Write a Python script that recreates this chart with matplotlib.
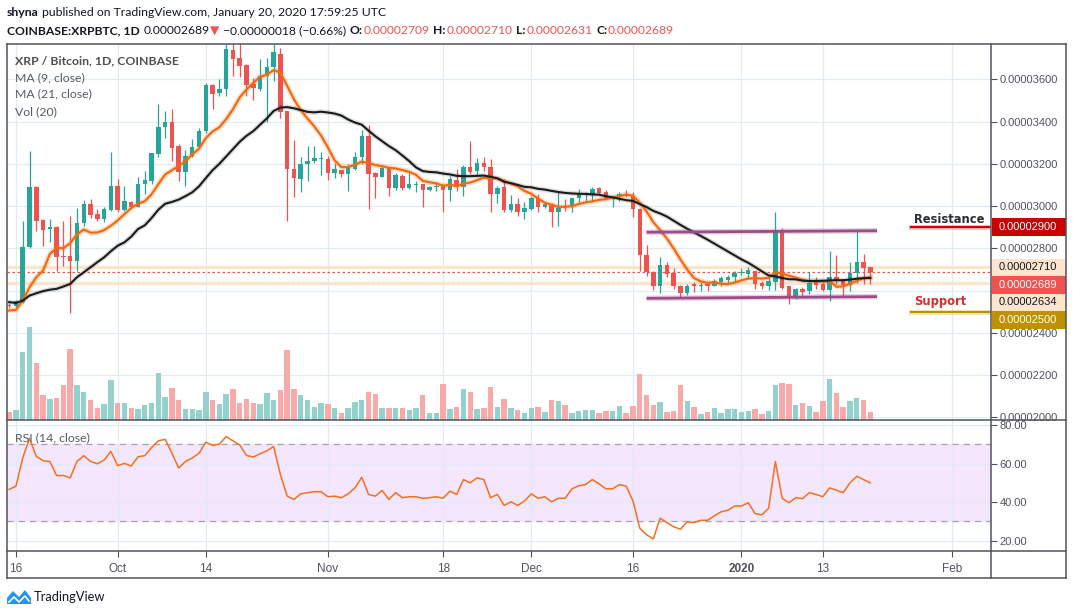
import numpy as np
import pandas as pd
import matplotlib.pyplot as plt
from matplotlib.patches import Rectangle, Polygon
from matplotlib.lines import Line2D

plt.rcParams['font.family'] = ['Liberation Sans', 'DejaVu Sans']

# daily candles XRP/BTC, prices in satoshi (1e-8 BTC), first candle 2019-09-15
first_day = "2019-09-15"
opens = [2530, 2525, 2545, 2805, 3091, 2935, 2890, 2902, 2760, 2765,
         2742, 2920, 3009, 2962, 2938, 2983, 3093, 2983, 3017, 2997,
         3104, 3120, 3246, 3372, 3396, 3282, 3159, 3238, 3281, 3353,
         3572, 3537, 3553, 3739, 3703, 3667, 3580, 3556, 3616, 3656,
         3722, 3451, 3173, 3128, 3199, 3211, 3222, 3222, 3158, 3172,
         3151, 3175, 3230, 3333, 3156, 3139, 3183, 3085, 3140, 3085,
         3100, 3104, 3076, 3088, 3099, 3077, 3123, 3088, 3187, 3167,
         3202, 3187, 3057, 3088, 2983, 3009, 2970, 2986, 3038, 2997,
         3009, 2973, 2994, 2994, 3036, 3054, 3054, 3085, 3065, 3038,
         3041, 3054, 3049, 2986, 2770, 2686, 2623, 2721, 2682, 2622,
         2590, 2631, 2622, 2631, 2623, 2639, 2652, 2666, 2684, 2678,
         2691, 2634, 2623, 2642, 2880, 2620, 2573, 2608, 2600, 2642,
         2631, 2603, 2663, 2652, 2628, 2682, 2734, 2709]
highs = [2540, 2555, 2931, 3262, 3095, 2940, 2938, 2905, 2930, 2954,
         2990, 3030, 3033, 2986, 2994, 3254, 3128, 3096, 3025, 3139,
         3167, 3252, 3482, 3450, 3459, 3293, 3265, 3317, 3367, 3582,
         3580, 3600, 3767, 3770, 3770, 3671, 3608, 3695, 3703, 3766,
         3750, 3451, 3312, 3230, 3285, 3285, 3254, 3235, 3203, 3172,
         3199, 3254, 3359, 3385, 3162, 3191, 3186, 3154, 3151, 3159,
         3120, 3104, 3096, 3112, 3104, 3143, 3175, 3195, 3309, 3227,
         3230, 3222, 3096, 3128, 3052, 3038, 3017, 3049, 3057, 3017,
         3013, 3065, 3033, 3038, 3080, 3065, 3088, 3091, 3076, 3044,
         3068, 3077, 3065, 2990, 2816, 2694, 2760, 2734, 2705, 2626,
         2631, 2639, 2642, 2639, 2655, 2671, 2675, 2691, 2705, 2710,
         2691, 2644, 2660, 2973, 2896, 2620, 2612, 2616, 2688, 2663,
         2641, 2786, 2768, 2652, 2734, 2891, 2773, 2710]
lows = [2515, 2515, 2540, 2800, 2880, 2812, 2828, 2694, 2718, 2493,
        2694, 2907, 2943, 2930, 2923, 2978, 2970, 2978, 2990, 2994,
        3057, 3105, 3233, 3320, 3214, 3117, 3096, 3233, 3277, 3348,
        3459, 3522, 3522, 3616, 3609, 3522, 3501, 3545, 3396, 3592,
        3419, 2931, 3043, 3068, 3120, 3202, 3148, 3123, 3132, 3139,
        3072, 3170, 3199, 2986, 3038, 3136, 3047, 3077, 3077, 3080,
        3065, 2997, 3069, 3072, 2970, 3025, 3072, 3049, 3151, 3148,
        3167, 2970, 3014, 2973, 2973, 2954, 2939, 2983, 2973, 2989,
        2902, 2907, 2975, 2973, 3017, 3017, 3017, 3057, 3030, 2994,
        3025, 3041, 2946, 2694, 2671, 2603, 2587, 2663, 2608, 2568,
        2581, 2595, 2597, 2600, 2620, 2620, 2636, 2642, 2674, 2660,
        2608, 2608, 2603, 2604, 2608, 2534, 2560, 2571, 2584, 2608,
        2597, 2552, 2631, 2568, 2600, 2634, 2631, 2631]
closes = [2525, 2548, 2805, 3091, 2930, 2888, 2902, 2757, 2757, 2742,
          2920, 3009, 2959, 2938, 2986, 3093, 2983, 3025, 2997, 3104,
          3123, 3249, 3372, 3396, 3277, 3159, 3235, 3281, 3353, 3572,
          3530, 3553, 3742, 3695, 3664, 3574, 3561, 3616, 3656, 3731,
          3443, 3175, 3131, 3199, 3214, 3227, 3224, 3158, 3175, 3151,
          3180, 3233, 3333, 3151, 3139, 3180, 3085, 3147, 3085, 3104,
          3104, 3076, 3091, 3093, 3077, 3128, 3088, 3187, 3159, 3202,
          3186, 3057, 3085, 2983, 3009, 2970, 2991, 3038, 2997, 3009,
          2973, 2991, 2989, 3038, 3061, 3060, 3080, 3061, 3038, 3044,
          3057, 3049, 2986, 2770, 2686, 2623, 2721, 2679, 2619, 2590,
          2623, 2620, 2628, 2623, 2644, 2660, 2666, 2685, 2686, 2697,
          2631, 2619, 2647, 2880, 2611, 2573, 2608, 2594, 2636, 2628,
          2603, 2663, 2644, 2628, 2682, 2734, 2707, 2689]
volumes = [24, 29, 205, 280, 170, 74, 62, 67, 104, 212,
           104, 85, 59, 37, 47, 119, 52, 52, 37, 32,
           44, 52, 142, 70, 97, 59, 32, 32, 29, 85,
           59, 47, 77, 94, 52, 62, 52, 49, 80, 59,
           89, 209, 92, 74, 59, 40, 52, 47, 37, 22,
           37, 55, 59, 85, 77, 35, 35, 37, 35, 29,
           35, 74, 20, 22, 107, 32, 40, 92, 85, 32,
           35, 100, 40, 64, 37, 31, 22, 35, 40, 25,
           60, 57, 44, 22, 27, 31, 31, 22, 27, 27,
           42, 22, 42, 139, 74, 46, 55, 25, 28, 106,
           58, 40, 19, 25, 37, 22, 34, 34, 25, 28,
           34, 19, 28, 106, 112, 109, 46, 52, 43, 25,
           58, 124, 82, 40, 58, 67, 61, 25]
rsi = [46.6, 48.3, 62.9, 73.1, 63.7, 61.5, 61.1, 53.8, 53.8, 52.6,
       61.1, 64.1, 61.1, 59.9, 61.8, 66.3, 58.9, 60.1, 58.7, 63.5,
       64.1, 68.3, 71.8, 72.6, 65.4, 57.7, 61.1, 62.9, 65.4, 71.1,
       69.4, 70.1, 74.0, 71.8, 69.7, 64.2, 63.4, 65.1, 66.6, 68.9,
       54.3, 43.1, 41.4, 44.3, 44.9, 45.4, 45.4, 42.8, 43.1, 42.3,
       44.3, 47.4, 52.9, 44.0, 43.1, 46.1, 41.4, 44.9, 42.3, 42.8,
       42.8, 42.0, 42.3, 42.8, 42.0, 45.7, 44.0, 51.7, 50.0, 52.6,
       51.7, 42.3, 44.0, 38.3, 40.2, 38.3, 40.6, 44.3, 42.0, 42.8,
       40.2, 42.0, 42.0, 46.9, 48.5, 49.1, 51.7, 49.5, 46.9, 46.9,
       49.1, 48.3, 40.6, 26.5, 23.1, 20.9, 31.7, 29.4, 27.2, 26.0,
       29.8, 29.4, 30.6, 30.6, 32.9, 35.0, 35.8, 38.0, 38.0, 39.7,
       34.1, 33.4, 36.8, 61.1, 42.0, 39.7, 42.3, 41.8, 44.9, 44.0,
       42.8, 47.4, 46.2, 44.9, 50.0, 53.4, 51.7, 50.0]
# moving averages before enough closes exist
ma9_start = [2505, 2508, 2552, 2615, 2663, 2694, 2773, 2801]
ma21_start = [2545, 2541, 2552, 2576, 2587, 2597, 2604, 2608, 2619, 2631,
              2663, 2686, 2710, 2734, 2757, 2786, 2812, 2828, 2855, 2891]

price_ticks = [2000, 2200, 2400, 2600, 2800, 3000, 3200, 3400, 3600]
hidden_tick = 2600   # covered by the price tags in the original
rsi_ticks = [20, 40, 60, 80]
date_ticks = ["2019-09-16", "2019-10-01", "2019-10-14", "2019-11-01", "2019-11-18",
              "2019-12-01", "2019-12-16", "2020-01-01", "2020-01-13", "2020-02-01"]
date_labels = ["16", "Oct", "14", "Nov", "18", "Dec", "16", "2020", "13", "Feb"]

channel_days = ["2019-12-18", "2020-01-21"]
channel_top = [2876, 2883]
channel_bottom = [2563, 2571]
level_day = "2020-01-26"
resistance = 2900
support = 2500
day_high = 2710
day_low = 2634
last_close = 2689

W, H = 1073, 615
GREEN, RED = '#26a69a', '#ef5350'
AXIS_C = '#50535e'
GRID_C = '#e1ecf2'
HEAD_FONT = ['Lato', 'DejaVu Sans']


def day_index(s):
    return (pd.Timestamp(s) - pd.Timestamp(first_day)).days


def fx(px):
    return px / W


def fy(py):
    return 1 - py / H


x = np.arange(len(closes))
o = np.array(opens, float)
c = np.array(closes, float)
up = c >= o
colors = np.where(up, GREEN, RED)

close_s = pd.Series(c)
ma9 = close_s.rolling(9).mean()
ma9.iloc[:len(ma9_start)] = ma9_start
ma21 = close_s.rolling(21).mean()
ma21.iloc[:len(ma21_start)] = ma21_start

fig = plt.figure(figsize=(W / 100, H / 100), dpi=100)
ax = fig.add_axes([fx(7), fy(420), fx(991) - fx(7), fy(44) - fy(420)])
axr = fig.add_axes([fx(7), fy(551), fx(991) - fx(7), fy(420) - fy(551)], sharex=ax)
axv = ax.twinx()   # volume overlay (twinx resets ax ticks to the left, so set them after)

# price panel
ax.set_xlim(-0.32, 144.8)
ax.set_ylim(1987, 3767)
ax.set_axisbelow(True)
ax.grid(True, color=GRID_C, lw=0.9)
ax.set_yticks(price_ticks)
ax.set_yticklabels(["" if p == hidden_tick else f"{p / 1e8:.8f}" for p in price_ticks])
ax.yaxis.tick_right()
ax.tick_params(axis='y', length=4, width=0.8, color=AXIS_C, labelsize=8, labelcolor=AXIS_C, pad=2)
ax.tick_params(axis='x', bottom=False, labelbottom=False)
for s in ax.spines.values():
    s.set_visible(False)

ax.axhline(day_high, color='#fce5cd', lw=2.4, zorder=1)
ax.axhline(day_low, color='#fce5cd', lw=2.4, zorder=1)
ax.axhline(last_close, color=RED, lw=0.9, ls=(0, (2, 2)), zorder=1.2)

ax.vlines(x, lows, highs, color=colors, lw=0.9, zorder=3)
body_lo = np.minimum(o, c)
body_h = np.maximum(np.abs(c - o), 5)
ax.bar(x, body_h, bottom=body_lo, width=0.66, color=colors, zorder=3.1)

ax.plot(x, ma9, color='#f26b10', lw=4, alpha=0.2, zorder=3.5)
ax.plot(x, ma9, color='#f26b10', lw=1.6, zorder=3.6)
ax.plot(x, ma21, color='#1b1b1b', lw=3.5, alpha=0.15, zorder=3.5)
ax.plot(x, ma21, color='#1b1b1b', lw=1.5, zorder=3.6)

cx = [day_index(d) for d in channel_days]
for yy in (channel_top, channel_bottom):
    ax.plot(cx, yy, color='#9c4c88', lw=4, alpha=0.25, zorder=4, solid_capstyle='butt')
    ax.plot(cx, yy, color='#9c4c88', lw=2, zorder=4.1, solid_capstyle='butt')

lx = [day_index(level_day), 144.8]
ax.plot(lx, [resistance] * 2, color='#cc0000', lw=3.5, alpha=0.25, zorder=4)
ax.plot(lx, [resistance] * 2, color='#cc0000', lw=1.5, zorder=4.1)
ax.plot(lx, [support] * 2, color='#bf9000', lw=3.5, alpha=0.25, zorder=4)
ax.plot(lx, [support] * 2, color='#bf9000', lw=1.5, zorder=4.1)
ax.annotate('Resistance', (lx[0], resistance), xytext=(2, 3), textcoords='offset points',
            fontsize=8.3, fontweight='bold', color='#2a2e39', family='DejaVu Sans', va='baseline')
ax.annotate('Support', (lx[0], support), xytext=(2, 4.8), textcoords='offset points',
            fontsize=8.3, fontweight='bold', color='#d32f2f', family='DejaVu Sans', va='baseline')

axv.set_ylim(0, 1128)
vcol = np.where(up, '#93d2cc', '#f8a9a8')
axv.bar(x, volumes, width=0.8, color=vcol, zorder=2)
axv.axis('off')

# RSI panel
axr.set_ylim(14.66, 82.6)
axr.set_axisbelow(True)
axr.axhspan(30, 70, color='#f3e6fd', zorder=0)
axr.grid(True, color=GRID_C, lw=0.9)
axr.axhline(70, color='#a5a5b0', lw=0.9, ls=(0, (5, 4)), zorder=1)
axr.axhline(30, color='#a5a5b0', lw=0.9, ls=(0, (5, 4)), zorder=1)
axr.plot(x, rsi, color='#f4701e', lw=1.1, zorder=3)
axr.set_yticks(rsi_ticks)
axr.set_yticklabels([f"{v:.2f}" for v in rsi_ticks])
axr.yaxis.tick_right()
axr.tick_params(axis='y', length=4, width=0.8, color=AXIS_C, labelsize=8, labelcolor=AXIS_C, pad=2)
axr.set_xticks([day_index(d) for d in date_ticks])
axr.set_xticklabels(date_labels)
axr.tick_params(axis='x', length=4, width=0.8, color=AXIS_C, labelsize=8.5, labelcolor=AXIS_C, pad=5)
axr.get_xticklabels()[date_labels.index("2020")].set_fontweight('bold')
for s in axr.spines.values():
    s.set_visible(False)

# frame
for (x0, y0, x1, y1) in [(7, 44, 1066, 44), (7, 578, 1066, 578), (7, 44, 7, 578), (1066, 44, 1066, 578),
                         (7, 420, 1066, 420), (7, 551, 1066, 551), (991, 44, 991, 578)]:
    fig.add_artist(Line2D([fx(x0), fx(x1)], [fy(y0), fy(y1)], color=AXIS_C, lw=1.1))

# price tags on the right axis, stacked so they do not overlap
tags = [(resistance, '#cc0000', 'white'), (day_high, '#fce5cd', '#131722'),
        (last_close, RED, 'white'), (day_low, '#fce5cd', '#131722'), (support, '#bf9000', 'white')]
tag_h = 17.5
prev = -100
for p, bg, fg in tags:
    py = H - ax.transData.transform((0, p))[1]
    py = max(py, prev + tag_h)
    prev = py
    fig.add_artist(Rectangle((fx(992), fy(py + tag_h / 2)), fx(74), tag_h / H, color=bg, lw=0))
    fig.text(fx(999), fy(py), f"{p / 1e8:.8f}", fontsize=8, color=fg, va='center', ha='left')

# header
r = fig.canvas.get_renderer()


def text_line(parts, px, py, size):
    for s, col, wt, gap in parts:
        t = fig.text(fx(px), fy(py), s, fontsize=size, color=col, fontweight=wt,
                     family=HEAD_FONT, va='center', ha='left')
        px += t.get_window_extent(r).width + gap


DARK = '#131722'
text_line([("shyna", DARK, 'bold', 3),
           ("published on TradingView.com, January 20, 2020 17:59:25 UTC", DARK, 'normal', 0)], 7, 12, 8.8)
text_line([("COINBASE:XRPBTC, 1D", DARK, 'bold', 4),
           ("0.00002689", DARK, 'normal', 0.5),
           ("\u25bc", RED, 'normal', 3),
           ("\u22120.00000018 (\u22120.66%)", DARK, 'normal', 4),
           ("O:", DARK, 'bold', 0.5), ("0.00002709", RED, 'normal', 4),
           ("H:", DARK, 'bold', 0.5), ("0.00002710", RED, 'normal', 4),
           ("L:", DARK, 'bold', 0.5), ("0.00002631", RED, 'normal', 4),
           ("C:", DARK, 'bold', 0.5), ("0.00002689", RED, 'normal', 0)], 7, 31, 8.7)

# legend texts inside panes
fig.text(fx(15), fy(60.5), "XRP / Bitcoin, 1D, COINBASE", fontsize=8.8, fontweight='bold',
         color='#4f4f4f', family=HEAD_FONT, va='center')
for label, py in [("MA (9, close)", 77.3), ("MA (21, close)", 94), ("Vol (20)", 111.3)]:
    fig.text(fx(15), fy(py), label, fontsize=8.8, color='#555a64', family=HEAD_FONT, va='center')
fig.text(fx(15), fy(438), "RSI (14, close)", fontsize=8.8, color='#555a64', family=HEAD_FONT, va='center')

# TradingView footer
logo = [(7, 604), (7, 598), (13, 591), (19, 597), (25, 590), (31, 598), (31, 604)]
fig.add_artist(Polygon([(fx(a), fy(b)) for a, b in logo], closed=True, color='#2196f3', lw=0))
zig = [(9, 602), (14, 597), (19, 602), (25, 596), (29, 601)]
fig.add_artist(Line2D([fx(a) for a, b in zig], [fy(b) for a, b in zig], color='white', lw=1.2))
fig.text(fx(34), fy(597), "TradingView", fontsize=9.3, color=DARK, family=HEAD_FONT, va='center')

fig.savefig("out.png", dpi=100)
